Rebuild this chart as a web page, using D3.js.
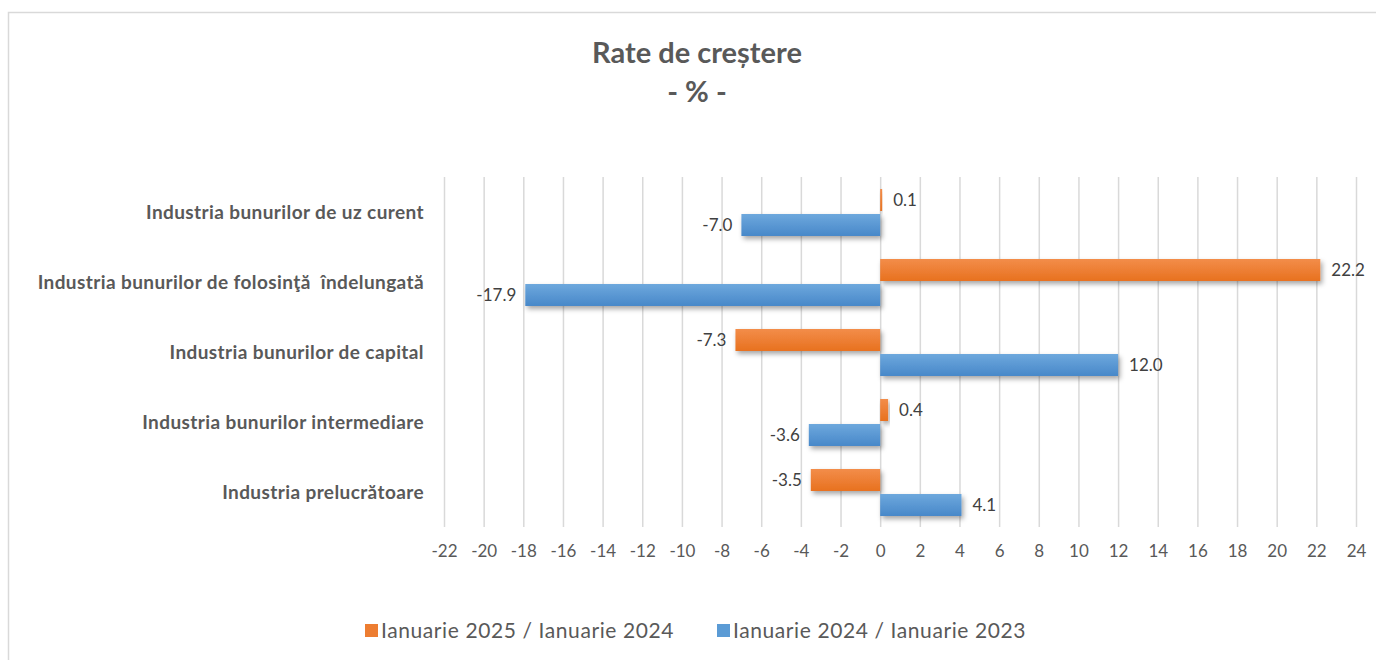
<html>
<head>
<meta charset="utf-8">
<title>Rate de creștere</title>
<script src="https://cdn.jsdelivr.net/npm/d3@7"></script>
<style>
    body { margin: 0; background: #fff; }
    svg text { font-family: Lato, "Open Sans", sans-serif; }
    .grid line { stroke: #d9d9d9; stroke-width: 1.5; }
    .grid path { display: none; }
    .xaxis path, .xaxis line { display: none; }
    .xaxis text { font-size: 17px; fill: #595959; }
    .cat { font-size: 19px; font-weight: bold; fill: #595959; white-space: pre; letter-spacing: 0.4px; }
    .val { font-size: 17px; fill: #404040; }
    .legend text { font-size: 21px; fill: #595959; letter-spacing: 0.6px; }
</style>
</head>
<body>
<script>
// categories, top to bottom
var categories = [
    "Industria bunurilor de uz curent",
    "Industria bunurilor de folosinţă  îndelungată",
    "Industria bunurilor de capital",
    "Industria bunurilor intermediare",
    "Industria prelucrătoare"
];
var seriesNames = ["Ianuarie 2025 / Ianuarie 2024", "Ianuarie 2024 / Ianuarie 2023"];
var values2025 = [0.1, 22.2, -7.3, 0.4, -3.5];
var values2024 = [-7.0, -17.9, 12.0, -3.6, 4.1];
var xTicks = [-22, -20, -18, -16, -14, -12, -10, -8, -6, -4, -2, 0, 2, 4, 6, 8, 10, 12, 14, 16, 18, 20, 22, 24];

var w = 1376, h = 660;
var plotLeft = 444, plotRight = 1356, plotTop = 177, plotBottom = 527;

var svg = d3.select("body").append("svg")
    .attr("width", w)
    .attr("height", h);

var defs = svg.append("defs");
var grads = [["gOrange", "#f38d4a", "#e8711f"], ["gBlue", "#6ea8dd", "#4788c9"]];
grads.forEach(function (g) {
    var lg = defs.append("linearGradient").attr("id", g[0])
        .attr("x1", 0).attr("y1", 0).attr("x2", 0).attr("y2", 1);
    lg.append("stop").attr("offset", "0%").attr("stop-color", g[1]);
    lg.append("stop").attr("offset", "100%").attr("stop-color", g[2]);
});
var f = defs.append("filter").attr("id", "shadow")
    .attr("x", "-10%").attr("y", "-30%").attr("width", "130%").attr("height", "180%");
f.append("feDropShadow").attr("dx", 2).attr("dy", 3).attr("stdDeviation", 2.5)
    .attr("flood-color", "#000").attr("flood-opacity", 0.35);

// chart border
svg.append("rect")
    .attr("x", 8.5).attr("y", 12.5)
    .attr("width", 1400).attr("height", 700)
    .attr("fill", "none")
    .attr("stroke", "#d9d9d9")
    .attr("stroke-width", 1.5);

// title
svg.append("text")
    .attr("x", 697).attr("y", 63)
    .attr("text-anchor", "middle")
    .style("font-size", "29px").style("font-weight", "bold").style("fill", "#595959")
    .text("Rate de creștere");
svg.append("text")
    .attr("x", 697).attr("y", 102)
    .attr("text-anchor", "middle")
    .style("font-size", "29px").style("font-weight", "bold").style("fill", "#595959")
    .text("- % -");

var xscale = d3.scaleLinear().domain([-22, 24]).range([plotLeft, plotRight]);
var yscale = d3.scaleBand().domain(categories).range([plotTop, plotBottom]);
var yinner = d3.scaleBand().domain(seriesNames).range([12, 59]).paddingInner(0.12);

// grid
svg.append("g")
    .attr("class", "grid")
    .attr("transform", "translate(0," + plotBottom + ")")
    .call(d3.axisBottom(xscale).tickValues(xTicks).tickSize(-(plotBottom - plotTop)).tickFormat(""));

// x axis labels
svg.append("g")
    .attr("class", "xaxis")
    .attr("transform", "translate(0," + (plotBottom + 15) + ")")
    .call(d3.axisBottom(xscale).tickValues(xTicks).tickSize(0).tickFormat(function (d) { return String(d); }));

// category labels
svg.selectAll("text.cat")
    .data(categories)
    .enter()
    .append("text")
    .attr("class", "cat")
    .attr("x", 424)
    .attr("y", function (d) { return yscale(d) + yscale.bandwidth() / 2; })
    .attr("dy", "0.35em")
    .attr("text-anchor", "end")
    .text(function (d) { return d; });

var rows = [];
categories.forEach(function (c, i) {
    rows.push({ cat: c, s: seriesNames[0], v: values2025[i], fill: "url(#gOrange)" });
    rows.push({ cat: c, s: seriesNames[1], v: values2024[i], fill: "url(#gBlue)" });
});

svg.selectAll("rect.bar")
    .data(rows)
    .enter()
    .append("rect")
    .attr("class", "bar")
    .attr("x", function (d) { return xscale(Math.min(0, d.v)); })
    .attr("y", function (d) { return yscale(d.cat) + yinner(d.s); })
    .attr("width", function (d) { return Math.abs(xscale(d.v) - xscale(0)); })
    .attr("height", yinner.bandwidth())
    .attr("fill", function (d) { return d.fill; })
    .attr("filter", "url(#shadow)");

svg.selectAll("text.val")
    .data(rows)
    .enter()
    .append("text")
    .attr("class", "val")
    .attr("x", function (d) { return d.v < 0 ? xscale(d.v) - 9 : xscale(d.v) + 11; })
    .attr("y", function (d) { return yscale(d.cat) + yinner(d.s) + yinner.bandwidth() / 2; })
    .attr("dy", "0.35em")
    .attr("text-anchor", function (d) { return d.v < 0 ? "end" : "start"; })
    .text(function (d) { return d.v.toFixed(1); });

// legend
var legendColors = ["#ed7d31", "#5b9bd5"];
var legendX = [365, 717];
var lg = svg.append("g").attr("class", "legend");
seriesNames.forEach(function (s, i) {
    lg.append("rect")
        .attr("x", legendX[i]).attr("y", 624)
        .attr("width", 13).attr("height", 13)
        .attr("fill", legendColors[i]);
    lg.append("text")
        .attr("x", legendX[i] + 16).attr("y", 631)
        .attr("dy", "0.35em")
        .text(s);
});
</script>
</body>
</html>
